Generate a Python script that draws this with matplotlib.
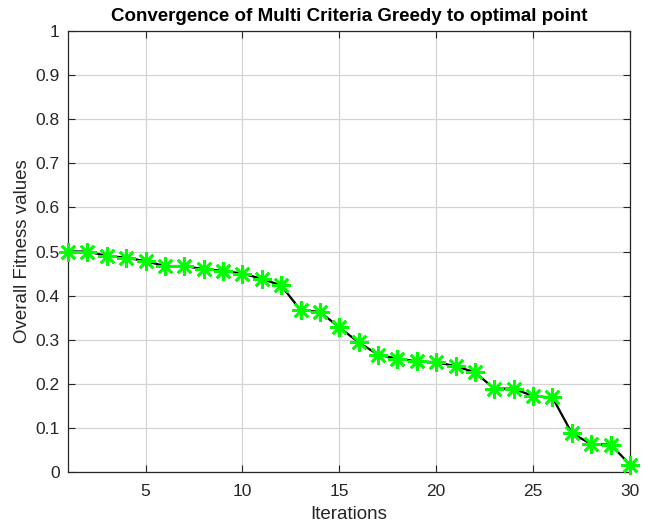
import matplotlib
matplotlib.use("Agg")
import matplotlib.pyplot as plt
import numpy as np

iterations = list(range(1, 31))
fitness = [0.500, 0.500, 0.490, 0.486, 0.478, 0.467, 0.467, 0.460, 0.456, 0.450,
           0.438, 0.423, 0.367, 0.363, 0.328, 0.294, 0.266, 0.257, 0.251, 0.249,
           0.240, 0.226, 0.189, 0.189, 0.172, 0.169, 0.088, 0.063, 0.062, 0.017]
xticks = [5, 10, 15, 20, 25, 30]
yticks = [0, 0.1, 0.2, 0.3, 0.4, 0.5, 0.6, 0.7, 0.8, 0.9, 1]
ytick_labels = ["0", "0.1", "0.2", "0.3", "0.4", "0.5", "0.6", "0.7", "0.8", "0.9", "1"]

plt.rcParams['font.family'] = ['Liberation Sans', 'DejaVu Sans']

fig = plt.figure(figsize=(6.48, 5.26), dpi=100)
ax = fig.add_axes([68/648, 1-472/526, (630-68)/648, (472-31)/526])

ax.plot(iterations, fitness, color='black', linewidth=1.6, zorder=2,
        clip_on=False)
ax.plot(iterations, fitness, linestyle='none', marker=(8, 2, 0), markersize=13.5,
        markeredgewidth=1.9, color=(0, 1, 0), zorder=3, clip_on=False)

ax.set_xlim(1, 30)
ax.set_ylim(0, 1)
ax.set_xticks(xticks)
ax.set_yticks(yticks)
ax.set_yticklabels(ytick_labels)
ax.tick_params(direction='in', top=True, right=True, labelsize=12.5, length=5,
               colors='#262626', labelcolor='#262626', pad=6)
ax.tick_params(axis='x', pad=9)
ax.grid(True, color='#d4d4d4', linewidth=0.9)
for s in ax.spines.values():
    s.set_color('#262626')
    s.set_linewidth(0.9)

ax.set_xlabel('Iterations', fontsize=13.5, color='#262626', labelpad=5)
ax.set_ylabel('Overall Fitness values', fontsize=13.5, color='#262626', labelpad=3)
ax.set_title('Convergence of Multi Criteria Greedy to optimal point', fontsize=13.5,
             fontweight='bold', pad=7)

fig.savefig('out.png', dpi=100)
